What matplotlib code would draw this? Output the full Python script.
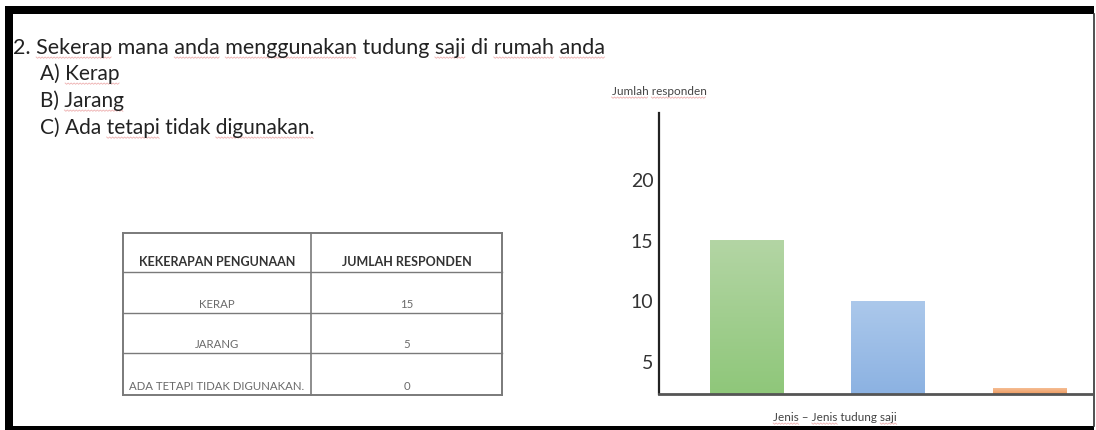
import numpy as np
import matplotlib
matplotlib.use('Agg')
import matplotlib.pyplot as plt
from matplotlib.patches import Rectangle

plt.rcParams['font.family'] = ['Lato', 'DejaVu Sans']

W, H = 1096, 430

# soalan dan pilihan jawapan
question = "2. Sekerap mana anda menggunakan tudung saji di rumah anda"
options = ["A) Kerap", "B) Jarang", "C) Ada tetapi tidak digunakan."]

# jadual kekerapan
table_header = ["KEKERAPAN PENGUNAAN", "JUMLAH RESPONDEN"]
freq_labels = ["KERAP", "JARANG", "ADA TETAPI TIDAK DIGUNAKAN."]
freq_counts = [15, 5, 0]

# carta bar
bar_values = [15, 10, 2.8]
y_ticks = [5, 10, 15, 20]
bar_top_colors = ['#b3d5a4', '#abc8eb', '#f5bd94']
bar_bottom_colors = ['#8fc77a', '#8cb2e2', '#ee9a5e']

fig = plt.figure(figsize=(W / 100, H / 100), dpi=100)
fig.patch.set_facecolor('white')

# paksi halaman dalam piksel (atas ke bawah)
page = fig.add_axes([0, 0, 1, 1])
page.set_xlim(0, W)
page.set_ylim(H, 0)
page.axis('off')

renderer = fig.canvas.get_renderer()


def text_w(s, size, weight='normal'):
    t = page.text(0, 0, s, fontsize=size, fontweight=weight)
    w = t.get_window_extent(renderer).width
    t.remove()
    return w


def squiggle(x0, x1, y):
    xs = np.arange(x0, x1 + 0.1, 1.5)
    ys = y + np.where(np.arange(len(xs)) % 2 == 0, 0, 1.3)
    page.plot(xs, ys, color='#e07070', lw=0.6, alpha=0.55)


def write(x, y, s, size, flagged=(), ha='left', color='#222222', weight='normal', gap=3):
    t = page.text(x, y, s, fontsize=size, ha=ha, va='baseline', color=color, fontweight=weight)
    total = text_w(s, size, weight)
    x_left = x - total / 2 if ha == 'center' else x
    words = s.split(' ')
    for i in flagged:
        upto = ' '.join(words[:i + 1])
        end = text_w(upto, size, weight)
        start = end - text_w(words[i], size, weight)
        squiggle(x_left + start, x_left + end, y + gap)
    return t


# bingkai hitam
page.add_patch(Rectangle((5, 6), 1089, 8, color='black', lw=0))
page.add_patch(Rectangle((5, 6), 8, 424, color='black', lw=0))
page.add_patch(Rectangle((5, 426), 1089, 4, color='black', lw=0))
page.plot([1093.5, 1093.5], [14, 426], color='#333333', lw=1.2)

# teks soalan
write(13, 54, question, 15.5, flagged=(1, 3, 4, 6, 8, 9))
write(40, 80, options[0], 15, flagged=(1,))
write(40, 107, options[1], 15, flagged=(1,))
write(40, 134, options[2], 15, flagged=(2, 4))

# jadual
tx0, tx1, tcol = 123, 502, 311
row_y = [233, 272, 313, 353, 395]
grid = '#7a7a7a'
for y in row_y:
    page.plot([tx0, tx1], [y, y], color=grid, lw=1.4 if y in (233, 395) else 1.0)
for x in (tx0, tcol, tx1):
    page.plot([x, x], [row_y[0], row_y[-1]], color=grid, lw=1.4 if x != tcol else 1.2)

c1, c2 = (tx0 + tcol) / 2, (tcol + tx1) / 2
page.text(c1, row_y[1] - 6, table_header[0], fontsize=9, fontweight='bold',
          ha='center', va='baseline', color='#333333')
page.text(c2, row_y[1] - 6, table_header[1], fontsize=9, fontweight='bold',
          ha='center', va='baseline', color='#333333')
for i, (lab, n) in enumerate(zip(freq_labels, freq_counts)):
    yb = row_y[i + 2] - 5
    page.text(c1, yb, lab, fontsize=8.2, ha='center', va='baseline', color='#6a6a6a')
    page.text(c2, yb, str(n), fontsize=8.2, ha='center', va='baseline', color='#6a6a6a')

# carta bar
ax_l, ax_r, ax_t, ax_b = 659, 1093, 113, 394
ax = fig.add_axes([ax_l / W, 1 - ax_b / H, (ax_r - ax_l) / W, (ax_b - ax_t) / H])
ax.patch.set_visible(False)
ax.set_ylim(2.36, 25.52)
ax.set_xlim(-0.623, 2.45)

x = np.arange(len(bar_values))
bars = ax.bar(x, bar_values, width=0.52, bottom=0, color='none', lw=0, zorder=2)
for b, ctop, cbot in zip(bars, bar_top_colors, bar_bottom_colors):
    grad = np.linspace(0, 1, 64)[:, None]
    top = np.array(matplotlib.colors.to_rgb(ctop))
    bot = np.array(matplotlib.colors.to_rgb(cbot))
    img = top[None, None, :] * (1 - grad[..., None]) + bot[None, None, :] * grad[..., None]
    x0 = b.get_x()
    ax.imshow(img, extent=[x0, x0 + b.get_width(), ax.get_ylim()[0], b.get_height()],
              aspect='auto', origin='upper', zorder=2, clip_path=b, clip_on=True)
ax.set_xlim(-0.623, 2.45)
ax.set_ylim(2.36, 25.52)

ax.set_yticks(y_ticks)
ax.set_xticks([])
ax.tick_params(axis='y', length=0, pad=4, labelsize=14, labelcolor='#333333')
ax.spines['top'].set_visible(False)
ax.spines['right'].set_visible(False)
ax.spines['left'].set_color('#222222')
ax.spines['left'].set_linewidth(1.6)
ax.spines['bottom'].set_color('#555555')
ax.spines['bottom'].set_linewidth(2.0)
ax.spines['bottom'].set_zorder(3)

write(659, 95, "Jumlah responden", 8.5, flagged=(0, 1), ha='center', color='#444444', gap=2)
write(835, 421, "Jenis \u2013 Jenis tudung saji", 8.5, flagged=(0, 2, 4), ha='center',
      color='#444444', gap=2)

fig.savefig('out.png', dpi=100, facecolor='white')
